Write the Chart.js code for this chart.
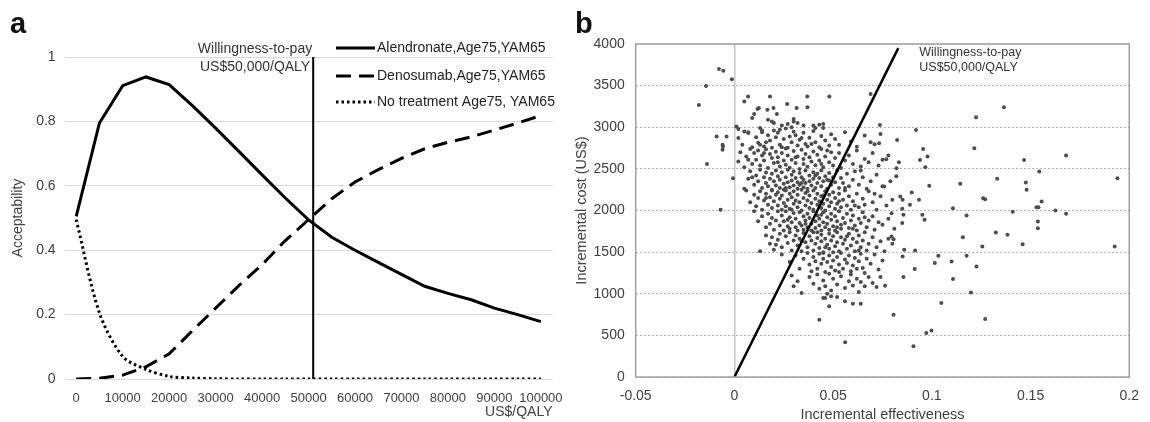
<!DOCTYPE html>
<html>
<head>
<meta charset="utf-8">
<script src="https://cdn.jsdelivr.net/npm/chart.js@4.4.1/dist/chart.umd.min.js"></script>
<style>
  html, body { margin: 0; padding: 0; background: #fff; }
  #wrap { position: relative; width: 1150px; height: 422px; overflow: hidden; }
  canvas { position: absolute; top: 0; }
  #cvA { left: 0; }
  #cvB { left: 570px; }
</style>
</head>
<body>
<div id="wrap">
  <canvas id="cvA" width="575" height="422"></canvas>
  <canvas id="cvB" width="580" height="422"></canvas>
</div>
<script>
// ---- panel a: acceptability curves ----
const wtpValues = [0, 5000, 10000, 15000, 20000, 25000, 30000, 35000, 40000, 45000, 50000,
  55000, 60000, 65000, 70000, 75000, 80000, 85000, 90000, 95000, 100000];
const alendronate = [0.505, 0.795, 0.911, 0.938, 0.914, 0.849, 0.779, 0.707, 0.634, 0.562, 0.494,
  0.44, 0.40, 0.362, 0.325, 0.288, 0.266, 0.246, 0.22, 0.20, 0.178];
const denosumab = [0, 0.002, 0.012, 0.038, 0.078, 0.15, 0.22, 0.29, 0.355, 0.43, 0.495,
  0.56, 0.612, 0.65, 0.685, 0.715, 0.735, 0.752, 0.773, 0.795, 0.818];
const noTreatment = [0.495, 0.205, 0.07, 0.03, 0.008, 0.003, 0.001, 0, 0, 0, 0,
  0, 0, 0, 0, 0, 0, 0, 0, 0, 0];
const wtpTicks = [0, 10000, 20000, 30000, 40000, 50000, 60000, 70000, 80000, 90000, 100000];
const wtpThreshold = 51000;
const seriesLabels = ['Alendronate,Age75,YAM65', 'Denosumab,Age75,YAM65', 'No treatment Age75, YAM65'];

// ---- panel b: cost-effectiveness plane ----
const wtpLineEnd = [0.083, 3950];
const psaPoints = [
  // left of zero
  [-0.018,3268],[-0.0144,3496],[-0.0078,3700],[-0.0056,3680],[-0.0013,3576],[-0.0139,2560],[-0.009,2888],
  [-0.006,2790],[-0.0058,2770],[-0.006,2730],[-0.004,2888],[-0.007,2008],[-0.0007,2388],
  // sparse right tail
  [0.1365,3240],[0.1224,3120],[0.092,2968],[0.1215,2748],[0.0956,2740],[0.0978,2648],[0.168,2660],[0.1467,2608],
  [0.094,2608],[0.0967,2520],[0.1544,2468],[0.1331,2380],[0.194,2388],[0.1144,2320],[0.1476,2336],[0.148,2248],
  [0.0987,2296],[0.126,2148],[0.127,2136],[0.1556,2108],[0.153,2040],[0.154,2040],[0.1626,2000],[0.168,1960],
  [0.141,1984],[0.1107,2028],[0.1176,1940],[0.1537,1868],[0.1537,1788],[0.1324,1736],[0.1383,1708],[0.1157,1680],
  [0.1256,1568],[0.146,1596],[0.1926,1568],[0.110,1388],[0.1033,1456],[0.1176,1456],[0.1015,1368],[0.1107,1176],
  [0.1226,1328],[0.1048,888],[0.1198,1016],[0.127,696],[0.0806,748],[0.0972,528],[0.0998,560],[0.0907,368],
  [0.0561,416],[0.043,688],[0.0952,1948],[0.0963,1888],[0.0889,2068],[0.0935,2128],[0.0898,2216],[0.084,2168],
  [0.0852,2128],[0.0796,1968],[0.0856,1948],[0.0915,1520],[0.086,1528],[0.0852,1448],[0.0913,1296],[0.0856,1200],
  [0.0796,1688],[0.0806,1656],[0.0821,2508],[0.0833,2580],[0.0824,2848],[0.0737,3028],[0.069,3400],[0.0481,3368],
  [0.0733,2808],[0.0769,2616],[0.0759,2288],[0.0763,1096],
  // 3000+
  [0.0069,3370],[0.005,3310],[0.018,3368],[0.0267,3280],[0.0124,3232],[0.0117,3220],[0.0167,3210],[0.0198,3230],
  [0.0315,3230],[0.0369,3370],[0.037,3240],[0.0215,3160],
  [.001,3010],[.002,2980],[.005,2950],[.009,3110],[.010,3160],[.017,3090],[.019,3070],[.020,3050],[.024,3020],
  [.027,3040],[.029,3000],[.032,3050],[.030,3070],[.040,3020],[.043,3030],[.045,3040],[.041,2990],[.023,2970],
  [.013,2990],[.014,2940],[.007,2940],[.035,3020],[.030,3100],
  // 2750-3000
  [.004,2790],[.002,2870],[.007,2930],[.009,2760],[.011,2880],[.012,2815],[.014,2960],[.015,2770],[.017,2905],
  [.018,2840],[.019,2755],[.021,2880],[.022,2935],[.023,2790],[.025,2860],[.026,2985],[.027,2755],[.028,2890],
  [.029,2820],[.031,2905],[.032,2780],[.033,2850],[.035,2935],[.036,2800],[.037,2770],[.038,2875],[.040,2955],
  [.041,2820],[.043,2760],[.044,2895],[.046,2840],[.048,2780],[.049,2915],[.051,2860],[.053,2790],[.056,2940],
  [.059,2830],[.062,2765],[.066,2900],[.069,2820],[.071,2795],[.074,2920],[.016,2820],[.024,2760],[.030,2945],
  [.034,2870],[.039,2800],[.020,2960],[.045,2990],[.013,2790],
  // 2500-2750
  [.002,2590],[.003,2700],[.005,2520],[.006,2650],[.008,2740],[.009,2560],[.010,2690],[.011,2610],[.012,2720],
  [.013,2540],[.014,2660],[.015,2600],[.016,2735],[.017,2510],[.018,2680],[.019,2630],[.020,2570],[.021,2705],
  [.022,2640],[.023,2530],[.024,2690],[.025,2600],[.026,2745],[.026,2550],[.027,2660],[.028,2515],[.029,2610],
  [.030,2715],[.031,2570],[.032,2650],[.033,2500],[.034,2730],[.035,2620],[.035,2560],[.036,2680],[.037,2525],
  [.038,2640],[.039,2590],[.040,2710],[.041,2545],[.042,2670],[.043,2600],[.044,2740],[.045,2520],[.046,2650],
  [.048,2580],[.049,2700],[.050,2540],[.051,2630],[.053,2690],[.054,2510],[.056,2600],[.058,2660],[.060,2560],
  [.062,2720],[.064,2530],[.066,2620],[.068,2580],[.070,2690],[.073,2540],[.075,2610],[.078,2660],[.031,2640],
  [.022,2580],[.015,2690],[.007,2610],[.044,2560],[.047,2720],
  // 2250-2500
  [.005,2260],[.007,2380],[.008,2470],[.010,2310],[.011,2420],[.012,2350],[.013,2490],[.014,2270],[.015,2400],
  [.016,2330],[.016,2455],[.017,2290],[.018,2380],[.019,2440],[.019,2250],[.020,2350],[.021,2480],[.021,2300],
  [.022,2410],[.023,2270],[.023,2370],[.024,2460],[.025,2320],[.025,2250],[.026,2400],[.027,2340],[.027,2490],
  [.028,2280],[.029,2430],[.029,2360],[.030,2300],[.030,2470],[.031,2390],[.032,2260],[.032,2340],[.033,2450],
  [.033,2310],[.034,2400],[.035,2280],[.035,2370],[.036,2480],[.036,2330],[.037,2260],[.038,2420],[.038,2350],
  [.039,2300],[.040,2460],[.040,2380],[.041,2270],[.042,2330],[.042,2440],[.043,2390],[.044,2290],[.044,2480],
  [.045,2350],[.046,2410],[.047,2260],[.047,2370],[.048,2450],[.049,2310],[.050,2400],[.051,2340],[.052,2480],
  [.053,2270],[.054,2390],[.055,2330],[.057,2440],[.058,2290],[.060,2370],[.061,2470],[.063,2310],[.065,2400],
  [.067,2260],[.069,2350],[.072,2430],[.075,2290],[.079,2350],[.082,2410],[.009,2400],[.026,2270],[.034,2330],
  [.041,2420],[.048,2360],[.056,2270],[.064,2480],
  // 2000-2250
  [.006,2240],[.008,2100],[.010,2190],[.011,2050],[.012,2150],[.013,2230],[.014,2010],[.015,2120],[.016,2200],
  [.017,2070],[.018,2160],[.019,2240],[.019,2030],[.020,2110],[.021,2190],[.022,2060],[.022,2220],[.023,2140],
  [.024,2010],[.024,2180],[.025,2090],[.026,2240],[.026,2050],[.027,2130],[.028,2200],[.028,2020],[.029,2160],
  [.030,2080],[.030,2230],[.031,2120],[.032,2040],[.032,2190],[.033,2100],[.034,2250],[.034,2000],[.035,2150],
  [.036,2060],[.036,2210],[.037,2120],[.038,2030],[.038,2180],[.039,2090],[.040,2240],[.040,2010],[.041,2140],
  [.042,2070],[.042,2200],[.043,2110],[.044,2030],[.044,2170],[.045,2080],[.046,2230],[.046,2000],[.047,2130],
  [.048,2050],[.048,2190],[.049,2100],[.050,2220],[.051,2020],[.051,2150],[.052,2080],[.053,2200],[.054,2040],
  [.055,2130],[.056,2240],[.057,2060],[.058,2170],[.059,2010],[.060,2110],[.062,2200],[.063,2040],[.065,2140],
  [.066,2070],[.068,2230],[.070,2100],[.072,2010],[.074,2170],[.077,2060],[.080,2130],[.085,2020],[.016,2150],
  [.029,2010],[.037,2230],[.045,2180],[.053,2110],[.061,2060],[.071,2200],
  // 1750-2000
  [.010,1990],[.012,1870],[.014,1930],[.016,1800],[.017,1960],[.018,1840],[.019,1910],[.020,1770],[.021,1880],
  [.022,1990],[.023,1820],[.024,1940],[.025,1760],[.025,1870],[.026,1990],[.027,1810],[.028,1920],[.028,1780],
  [.029,1860],[.030,1970],[.031,1800],[.031,1900],[.032,1760],[.033,1850],[.033,1980],[.034,1820],[.035,1930],
  [.035,1770],[.036,1880],[.037,1960],[.037,1800],[.038,1910],[.039,1840],[.039,1760],[.040,1990],[.041,1870],
  [.041,1790],[.042,1940],[.043,1820],[.043,1900],[.044,1760],[.045,1860],[.045,1980],[.046,1800],[.047,1920],
  [.047,1840],[.048,1770],[.049,1890],[.049,1960],[.050,1810],[.051,1930],[.051,1760],[.052,1870],[.053,1990],
  [.054,1830],[.054,1780],[.055,1910],[.056,1850],[.057,1960],[.058,1790],[.059,1880],[.060,1940],[.061,1820],
  [.062,1760],[.063,1900],[.064,1850],[.065,1980],[.067,1800],[.068,1880],[.070,1930],[.071,1770],[.073,1860],
  [.075,1830],[.078,1900],[.081,1780],[.085,1850],[.036,1840],[.044,1950],[.052,1800],[.027,1890],[.060,1780],
  [.066,1920],
  // 1500-1750
  [.016,1700],[.018,1600],[.019,1680],[.020,1530],[.022,1650],[.023,1720],[.024,1560],[.026,1690],[.027,1610],
  [.028,1740],[.029,1520],[.030,1640],[.031,1700],[.032,1580],[.033,1660],[.034,1510],[.035,1730],[.036,1620],
  [.037,1560],[.038,1690],[.039,1640],[.040,1520],[.040,1740],[.041,1600],[.042,1670],[.043,1550],[.044,1710],
  [.044,1630],[.045,1500],[.046,1660],[.047,1590],[.048,1720],[.048,1540],[.049,1640],[.050,1690],[.051,1570],
  [.052,1740],[.052,1620],[.053,1510],[.054,1680],[.055,1600],[.056,1650],[.057,1540],[.058,1720],[.059,1580],
  [.060,1660],[.061,1510],[.062,1620],[.063,1700],[.064,1560],[.065,1640],[.066,1740],[.067,1520],[.068,1600],
  [.070,1680],[.072,1560],[.074,1630],[.076,1510],[.078,1660],[.080,1600],[.013,1510],[.021,1590],[.034,1630],
  [.046,1560],[.057,1690],[.063,1520],[.042,1740],[.050,1500],
  // 1250-1500
  [.024,1470],[.028,1380],[.031,1460],[.033,1300],[.035,1420],[.037,1490],[.038,1350],[.039,1270],[.040,1440],
  [.041,1390],[.042,1300],[.043,1480],[.044,1360],[.045,1420],[.046,1260],[.047,1380],[.048,1460],[.049,1320],
  [.050,1400],[.051,1280],[.052,1440],[.053,1350],[.054,1490],[.055,1300],[.056,1410],[.057,1370],[.058,1460],
  [.059,1270],[.060,1340],[.061,1430],[.062,1300],[.063,1390],[.064,1480],[.065,1310],[.066,1250],[.067,1420],
  [.069,1360],[.071,1470],[.073,1290],[.075,1400],[.045,1490],[.053,1260],
  // 1000-1250
  [.029,1220],[.030,1090],[.032,1150],[.034,1010],[.038,1200],[.040,1120],[.042,1230],[.043,1060],[.045,1160],
  [.046,1090],[.048,1240],[.049,1040],[.050,1180],[.052,1110],[.054,1210],[.056,1070],[.058,1150],[.059,1230],
  [.060,1100],[.062,1180],[.063,1020],[.064,1140],[.066,1090],[.068,1200],[.070,1130],[.072,1080],[.074,1200],
  [.047,1000],
  // below 1000
  [.045,950],[.046,950],[.049,970],[.048,850],[.056,910],[.060,880],[.064,880],[.052,960]
];
const effTicks = [-0.05, 0, 0.05, 0.1, 0.15, 0.2];

const FONT = '"Liberation Sans", Arial, Helvetica, sans-serif';
Chart.defaults.font.family = FONT;
Chart.defaults.color = '#404040';

const xy = (ys) => ys.map((y, i) => ({ x: wtpValues[i], y }));

// legend + text overlay for panel a
const overlayA = {
  id: 'overlayA',
  afterDraw(chart) {
    const ctx = chart.ctx;
    const xs = chart.scales.x;
    ctx.save();
    ctx.fillStyle = '#111';
    ctx.font = 'bold 29px ' + FONT;
    ctx.textBaseline = 'alphabetic';
    ctx.fillText('a', 10, 33);

    // willingness-to-pay label, text ends at the line
    const lx = xs.getPixelForValue(wtpThreshold);
    ctx.font = '14px ' + FONT;
    ctx.fillStyle = '#333';
    ctx.textAlign = 'right';
    ctx.textBaseline = 'middle';
    ctx.fillText('Willingness-to-pay', lx - 1, 49);
    ctx.fillText('US$50,000/QALY', lx - 3, 67);

    // legend
    const rows = [48, 76, 102];
    chart.data.datasets.slice(0, 3).forEach((ds, i) => {
      const y = rows[i];
      ctx.beginPath();
      ctx.setLineDash(ds.borderDash || []);
      ctx.lineWidth = ds.borderWidth;
      ctx.strokeStyle = ds.borderColor;
      ctx.moveTo(336, y);
      ctx.lineTo(375, y);
      ctx.stroke();
      ctx.setLineDash([]);
      ctx.fillStyle = '#222';
      ctx.textAlign = 'left';
      ctx.fillText(ds.label, 377, y);
    });
    ctx.restore();
  }
};

new Chart(document.getElementById('cvA'), {
  type: 'line',
  data: {
    datasets: [
      { label: seriesLabels[0], data: xy(alendronate), borderColor: '#000', borderWidth: 3, pointRadius: 0, tension: 0 },
      { label: seriesLabels[1], data: xy(denosumab), borderColor: '#000', borderWidth: 3, borderDash: [15, 8], pointRadius: 0, tension: 0 },
      { label: seriesLabels[2], data: xy(noTreatment), borderColor: '#000', borderWidth: 3, borderDash: [2.5, 3], pointRadius: 0, tension: 0.3 },
      { label: 'WTP', data: [{ x: wtpThreshold, y: 0 }, { x: wtpThreshold, y: 1 }], borderColor: '#000', borderWidth: 2, pointRadius: 0 }
    ]
  },
  options: {
    responsive: false,
    animation: false,
    layout: { padding: { top: 57, right: 18, left: 0, bottom: 0 } },
    plugins: { legend: { display: false }, tooltip: { enabled: false } },
    scales: {
      x: {
        type: 'linear', min: -2500, max: 102500,
        grid: { display: false, drawTicks: false },
        border: { display: false },
        afterBuildTicks: s => { s.ticks = wtpTicks.map(v => ({ value: v })); },
        afterFit: s => { s.height = 43; },
        ticks: { padding: 12, maxRotation: 0, autoSkip: false, font: { size: 13 }, callback: v => String(v) },
        title: { display: true, text: 'US$/QALY', align: 'end', color: '#404040', font: { size: 14 }, padding: { top: 0, bottom: 1 } }
      },
      y: {
        min: 0, max: 1,
        grid: { color: '#d9d9d9', lineWidth: 1, drawTicks: false },
        border: { display: false },
        afterFit: s => { s.width = 64.6; },
        ticks: { stepSize: 0.2, padding: 9, font: { size: 14 }, callback: v => String(+v.toFixed(1)) },
        title: { display: true, text: 'Acceptability', color: '#404040', font: { size: 14 }, padding: { top: 10, bottom: 0 } }
      }
    }
  },
  plugins: [overlayA]
});

// box + text overlay for panel b
const overlayB = {
  id: 'overlayB',
  afterDraw(chart) {
    const ctx = chart.ctx;
    const a = chart.chartArea;
    const xs = chart.scales.x;
    ctx.save();
    ctx.strokeStyle = '#a0a0a0';
    ctx.lineWidth = 1.5;
    ctx.strokeRect(a.left, a.top, a.right - a.left, a.bottom - a.top);

    ctx.fillStyle = '#111';
    ctx.font = 'bold 29px ' + FONT;
    ctx.fillText('b', 5, 33);

    const tx = xs.getPixelForValue(wtpLineEnd[0]) + 21;
    ctx.fillStyle = '#333';
    ctx.font = '12.5px ' + FONT;
    ctx.textBaseline = 'middle';
    ctx.fillText('Willingness-to-pay', tx, 53);
    ctx.fillText('US$50,000/QALY', tx, 68);
    ctx.restore();
  }
};

new Chart(document.getElementById('cvB'), {
  type: 'scatter',
  data: {
    datasets: [
      { type: 'line', label: 'WTP', data: [{ x: 0, y: 0 }, { x: wtpLineEnd[0], y: wtpLineEnd[1] }], borderColor: '#000', borderWidth: 2.5, pointRadius: 0 },
      { label: 'PSA', data: psaPoints.map(p => ({ x: p[0], y: p[1] })), backgroundColor: '#4d4d4d', borderWidth: 0, pointRadius: 2 }
    ]
  },
  options: {
    responsive: false,
    animation: false,
    layout: { padding: { top: 44, right: 15.4, left: 0, bottom: 0 } },
    plugins: { legend: { display: false }, tooltip: { enabled: false } },
    scales: {
      x: {
        type: 'linear', min: -0.05, max: 0.2,
        grid: { drawTicks: false, color: c => (c.tick && c.tick.value === 0 ? '#c4c4c4' : 'transparent'), lineWidth: 1.5 },
        border: { display: false },
        afterBuildTicks: s => { s.ticks = effTicks.map(v => ({ value: v })); },
        afterFit: s => { s.height = 45; },
        ticks: { padding: 11, maxRotation: 0, autoSkip: false, font: { size: 14 }, callback: v => String(+v.toFixed(2)) },
        title: { display: true, text: 'Incremental effectiveness', color: '#404040', font: { size: 14.5, lineHeight: 1 }, padding: { top: 0, bottom: 0 } }
      },
      y: {
        min: 0, max: 4000,
        grid: { color: '#b4b4b4', lineWidth: 1, drawTicks: false },
        border: { display: false, dash: [2, 2] },
        afterFit: s => { s.width = 65.7; },
        ticks: { stepSize: 500, padding: 11, font: { size: 14 }, callback: v => String(v) },
        title: { display: true, text: 'Incremental cost (US$)', color: '#404040', font: { size: 14.5 }, padding: { top: 3, bottom: 0 } }
      }
    }
  },
  plugins: [overlayB]
});
</script>
</body>
</html>
